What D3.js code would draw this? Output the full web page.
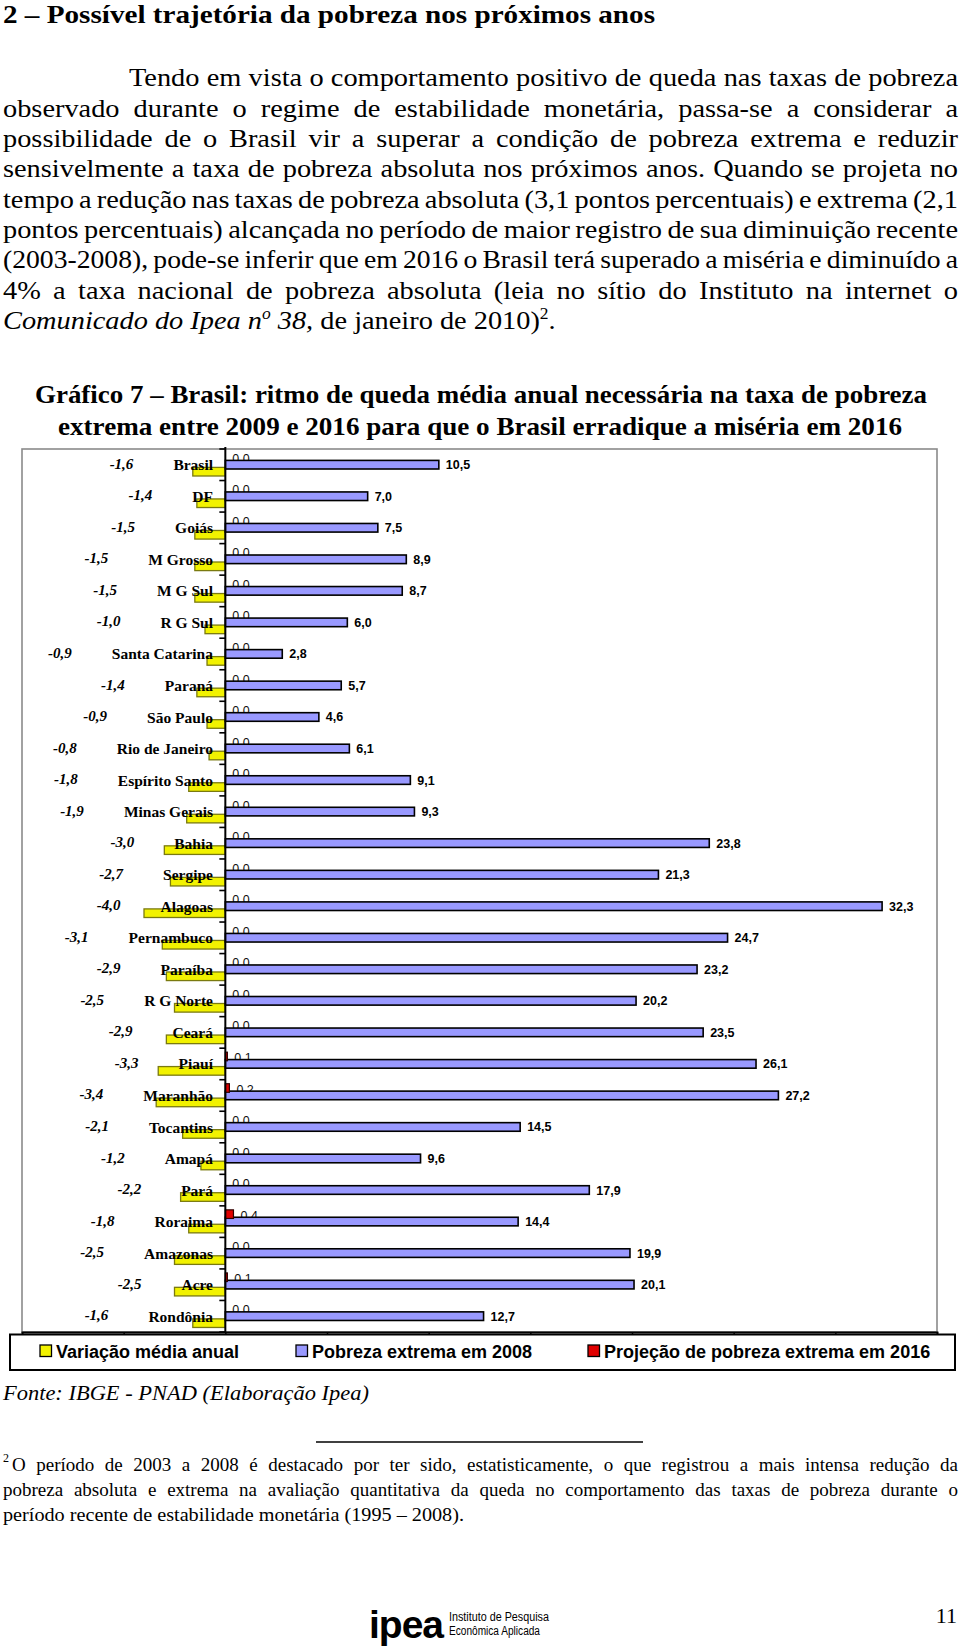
<!DOCTYPE html>
<html><head><meta charset="utf-8">
<script src="https://cdn.jsdelivr.net/npm/d3@7"></script>
<style>body{margin:0;background:#fff} svg{display:block}</style>
</head><body>
<svg id="c" width="960" height="1652"></svg>
<script>
// ---------- DATA ----------
const categories = ["Brasil","DF","Goiás","M Grosso","M G Sul","R G Sul","Santa Catarina","Paraná","São Paulo","Rio de Janeiro","Espírito Santo","Minas Gerais","Bahia","Sergipe","Alagoas","Pernambuco","Paraíba","R G Norte","Ceará","Piauí","Maranhão","Tocantins","Amapá","Pará","Roraima","Amazonas","Acre","Rondônia"];
const variacaoMediaAnual = [-1.6,-1.4,-1.5,-1.5,-1.5,-1.0,-0.9,-1.4,-0.9,-0.8,-1.8,-1.9,-3.0,-2.7,-4.0,-3.1,-2.9,-2.5,-2.9,-3.3,-3.4,-2.1,-1.2,-2.2,-1.8,-2.5,-2.5,-1.6];
const pobrezaExtrema2008 = [10.5,7.0,7.5,8.9,8.7,6.0,2.8,5.7,4.6,6.1,9.1,9.3,23.8,21.3,32.3,24.7,23.2,20.2,23.5,26.1,27.2,14.5,9.6,17.9,14.4,19.9,20.1,12.7];
const projecao2016 = [0,0,0,0,0,0,0,0,0,0,0,0,0,0,0,0,0,0,0,0.1,0.2,0,0,0,0.4,0,0.1,0];
const seriesNames = ["Variação média anual","Pobreza extrema em 2008","Projeção de pobreza extrema em 2016"];
const xDomain = [-10, 35];
const xTicks = [-10,-5,0,5,10,15,20,25,30,35];

const headingText = "2 – Possível trajetória da pobreza nos próximos anos";
const paragraphLines = [
 "Tendo em vista o comportamento positivo de queda nas taxas de pobreza",
 "observado durante o regime de estabilidade monetária, passa-se a considerar a",
 "possibilidade de o Brasil vir a superar a condição de pobreza extrema e reduzir",
 "sensivelmente a taxa de pobreza absoluta nos próximos anos. Quando se projeta no",
 "tempo a redução nas taxas de pobreza absoluta (3,1 pontos percentuais) e extrema (2,1",
 "pontos percentuais) alcançada no período de maior registro de sua diminuição recente",
 "(2003-2008), pode-se inferir que em 2016 o Brasil terá superado a miséria e diminuído a",
 "4% a taxa nacional de pobreza absoluta (leia no sítio do Instituto na internet o"
];
const titleLines = [
 "Gráfico 7 – Brasil: ritmo de queda média anual necessária na taxa de pobreza",
 "extrema entre 2009 e 2016 para que o Brasil erradique a miséria em 2016"
];
const sourceText = "Fonte: IBGE - PNAD (Elaboração Ipea)";
const footnoteLines = [
 "O período de 2003 a 2008 é destacado por ter sido, estatisticamente, o que registrou a mais intensa redução da",
 "pobreza absoluta e extrema na avaliação quantitativa da queda no comportamento das taxas de pobreza durante o",
 "período recente de estabilidade monetária (1995 – 2008)."
];

// ---------- HELPERS ----------
const svg = d3.select("#c");
const SERIF = "font-family:'Liberation Serif','Times New Roman',serif;";
const SANS = "font-family:'Liberation Sans',Arial,sans-serif;";
const locale = d3.formatLocale({decimal: ",", thousands: ".", grouping: [3], currency: ["", ""], minus: "-"});
const fmt = locale.format(".1f");

function measure(text, css){
  const t = svg.append("text").attr("style", css).text(text);
  const w = t.node().getComputedTextLength(); t.remove(); return w;
}
function justify(parent, str, x0, x1, yb, css, sx){
  sx = sx || 1;
  const words = str.split(" ");
  const ws = words.map(w => measure(w, css) * sx);
  const sum = d3.sum(ws);
  const fs = parseFloat(css.match(/font-size:([\d.]+)px/)[1]);
  let gap = (x1 - x0 - sum) / (words.length - 1), k = 1;
  const minGap = fs * 0.2;
  if (gap < minGap){ gap = minGap; k = (x1 - x0 - minGap*(words.length-1)) / sum; }
  let cx = x0;
  words.forEach((w,i) => {
    const t = parent.append("text").attr("x", cx).attr("y", yb).attr("style", css).text(w);
    if (k !== 1 || sx !== 1) t.attr("textLength", ws[i]*k).attr("lengthAdjust","spacingAndGlyphs");
    cx += ws[i]*k + gap;
  });
}
function fitText(parent, str, x0, x1, yb, css){
  return parent.append("text").attr("x", x0).attr("y", yb).attr("style", css)
    .attr("textLength", x1 - x0).attr("lengthAdjust","spacingAndGlyphs").text(str);
}

// ---------- PAGE TEXT ----------
const page = svg.append("g");
fitText(page, headingText, 3, 655, 23, SERIF + "font-size:26px;font-weight:bold;");
const pCss = SERIF + "font-size:26px;";

// last paragraph line (mixed styles), also gives the horizontal stretch of the body text
const l9g = page.append("g");
const l9 = l9g.append("text").attr("x", 0).attr("y", 0).attr("style", pCss);
l9.append("tspan").style("font-style","italic").text("Comunicado do Ipea n");
l9.append("tspan").style("font-style","italic").style("font-size","16px").attr("dy",-10).text("o");
l9.append("tspan").style("font-style","italic").attr("dy",10).text(" 38,");
l9.append("tspan").text(" de janeiro de 2010)");
l9.append("tspan").style("font-size","16px").attr("dy",-10).text("2");
l9.append("tspan").attr("dy",10).text(".");
const l9w = l9.node().getComputedTextLength();
const SX = Math.max(1, Math.min(1.15, 553 / l9w));
l9g.attr("transform", `translate(3,329) scale(${SX},1)`);

const pBase = [86, 116.5, 147, 177, 207.5, 238, 268, 298.5];
paragraphLines.forEach((l, i) => justify(page, l, i === 0 ? 129 : 3, 958, pBase[i], pCss, SX));

fitText(page, titleLines[0], 35, 927, 403, SERIF + "font-size:26px;font-weight:bold;");
fitText(page, titleLines[1], 58, 902, 435, SERIF + "font-size:26px;font-weight:bold;");

fitText(page, sourceText, 3, 369, 1400, SERIF + "font-size:21px;font-style:italic;");
page.append("line").attr("x1",316).attr("x2",643).attr("y1",1442).attr("y2",1442).attr("stroke","#000").attr("stroke-width",1.3);
const fnCss = SERIF + "font-size:19px;";
page.append("text").attr("x",3).attr("y",1462).attr("style", SERIF+"font-size:12px;").text("2");
justify(page, footnoteLines[0], 12, 958, 1471, fnCss);
justify(page, footnoteLines[1], 3, 958, 1496, fnCss);
fitText(page, footnoteLines[2], 3, 464, 1521, fnCss);

// footer
page.append("text").attr("x",369).attr("y",1638).attr("style", SANS+"font-size:39px;font-weight:bold;letter-spacing:-1px;").text("ipea");
fitText(page, "Instituto de Pesquisa", 449, 549, 1621, SANS+"font-size:12.5px;");
fitText(page, "Econômica Aplicada", 449, 540, 1635, SANS+"font-size:12.5px;");
page.append("text").attr("x",957).attr("y",1623).attr("text-anchor","end").attr("style", SERIF+"font-size:22px;").text("11");

// ---------- CHART ----------
const x = d3.scaleLinear().domain(xDomain).range([22, 937]);
const y = d3.scaleBand().domain(categories).range([449, 1332]).padding(0);
const bh = 8.6, offRed = 4, offBlue = 11.4, offYel = 18.4;
const rows = categories.map((c,i) => ({c, v: variacaoMediaAnual[i], p: pobrezaExtrema2008[i], r: projecao2016[i]}));
const chart = svg.append("g");

// plot area border
chart.append("rect").attr("x", x.range()[0]).attr("y", y.range()[0])
  .attr("width", x.range()[1]-x.range()[0]).attr("height", y.range()[1]-y.range()[0])
  .attr("fill","none").attr("stroke","#8a8a8a").attr("stroke-width",1.6);

// yellow bars
chart.selectAll(".yel").data(rows).join("rect")
  .attr("x", d => x(Math.min(0,d.v))).attr("width", d => Math.abs(x(d.v)-x(0)))
  .attr("y", d => y(d.c)+offYel).attr("height", bh)
  .attr("fill","#f2f200").attr("stroke","#7a7a10").attr("stroke-width",1.3);

// 2016 labels (under blue bars)
chart.selectAll(".rl").data(rows).join("text")
  .attr("x", d => x(d.r)+7).attr("y", d => y(d.c)+offRed+bh/2+5.5)
  .attr("style", SANS+"font-size:12.5px;").attr("fill","#111").text(d => fmt(d.r));

// blue bars
chart.selectAll(".blue").data(rows).join("rect")
  .attr("x", x(0)).attr("width", d => x(d.p)-x(0))
  .attr("y", d => y(d.c)+offBlue).attr("height", bh)
  .attr("fill","#9999ff").attr("stroke","#000").attr("stroke-width",1.6);

// red bars
chart.selectAll(".red").data(rows.filter(d => d.r > 0)).join("rect")
  .attr("x", x(0)).attr("width", d => x(d.r)-x(0))
  .attr("y", d => y(d.c)+offRed).attr("height", bh)
  .attr("fill","#e00000").attr("stroke","#300000").attr("stroke-width",1.2);

// blue labels
chart.selectAll(".bl").data(rows).join("text")
  .attr("x", d => x(d.p)+7).attr("y", d => y(d.c)+offBlue+bh/2+4.5)
  .attr("style", SANS+"font-size:12.5px;font-weight:bold;").text(d => fmt(d.p));

// vertical category axis at zero
const ax = chart.append("g");
ax.append("line").attr("x1", x(0)).attr("x2", x(0)).attr("y1", y.range()[0]-2).attr("y2", y.range()[1])
  .attr("stroke","#000").attr("stroke-width",2);
ax.selectAll(".tk").data(categories.map(c => y(c)).concat([y.range()[1]])).join("line")
  .attr("x1", x(0)-6).attr("x2", x(0)).attr("y1", d => d).attr("y2", d => d)
  .attr("stroke","#000").attr("stroke-width",1.6);

// category labels
const catLab = chart.selectAll(".cl").data(rows).join("text")
  .attr("x", 213).attr("y", d => y(d.c)+y.bandwidth()/2+5.5).attr("text-anchor","end")
  .attr("style", SERIF+"font-size:15.5px;font-weight:bold;").text(d => d.c);
const catW = catLab.nodes().map(n => n.getComputedTextLength());

// variation labels (italic) placed left of category labels
chart.selectAll(".vl").data(rows).join("text")
  .attr("x", (d,i) => 213 - catW[i] - 40).attr("y", d => y(d.c)+y.bandwidth()/2+4)
  .attr("text-anchor","end")
  .attr("style", SERIF+"font-size:15px;font-weight:bold;font-style:italic;").text(d => fmt(d.v));

// bottom axis
const bx = chart.append("g").attr("transform", `translate(0,${y.range()[1]})`)
  .call(d3.axisBottom(x).tickValues(xTicks).tickSize(4).tickFormat(""));
bx.select(".domain").attr("stroke","#000").attr("stroke-width",1.8);
bx.selectAll(".tick line").attr("stroke","#000").attr("stroke-width",1.5);

// legend
const lg = chart.append("g");
lg.append("rect").attr("x",10).attr("y",1334.5).attr("width",945).attr("height",35.5)
  .attr("fill","#fff").attr("stroke","#000").attr("stroke-width",2);
const legendX = [40, 296, 588];
const legendColors = ["#f2f200","#9999ff","#e00000"];
seriesNames.forEach((n,i) => {
  lg.append("rect").attr("x", legendX[i]).attr("y",1345).attr("width",11.5).attr("height",11.5)
    .attr("fill", legendColors[i]).attr("stroke","#000").attr("stroke-width",1.3);
  lg.append("text").attr("x", legendX[i]+16).attr("y",1358)
    .attr("style", SANS+"font-size:18px;font-weight:bold;").text(n);
});
</script>
</body></html>
